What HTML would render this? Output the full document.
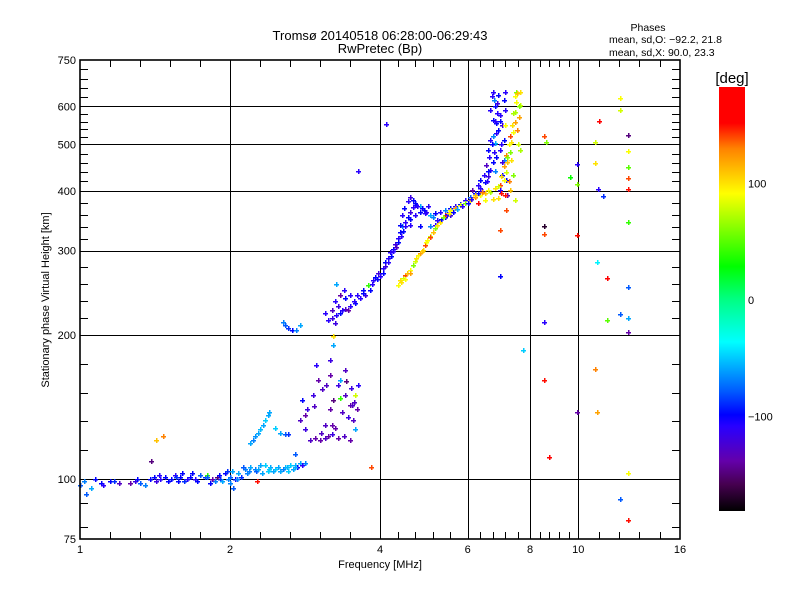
<!DOCTYPE html>
<html><head><meta charset="utf-8"><style>
html,body{margin:0;padding:0;background:#fff;}
svg{display:block;font-family:"Liberation Sans",sans-serif;}
</style></head><body>
<svg id="chart" width="800" height="600" viewBox="0 0 800 600" xmlns="http://www.w3.org/2000/svg">
<defs>
<linearGradient id="cbgrad" x1="0" y1="1" x2="0" y2="0">
<stop offset="0" stop-color="rgb(0,0,0)"/>
<stop offset="0.063" stop-color="rgb(70,0,80)"/>
<stop offset="0.118" stop-color="rgb(100,0,170)"/>
<stop offset="0.2" stop-color="rgb(40,0,255)"/>
<stop offset="0.227" stop-color="rgb(0,0,255)"/>
<stop offset="0.282" stop-color="rgb(0,90,255)"/>
<stop offset="0.399" stop-color="rgb(0,255,255)"/>
<stop offset="0.5" stop-color="rgb(0,255,130)"/>
<stop offset="0.577" stop-color="rgb(0,255,0)"/>
<stop offset="0.749" stop-color="rgb(255,255,0)"/>
<stop offset="0.855" stop-color="rgb(255,130,0)"/>
<stop offset="0.915" stop-color="rgb(255,0,0)"/>
<stop offset="1" stop-color="rgb(255,0,0)"/>
</linearGradient>
</defs>
<text x="380" y="40" font-size="13" text-anchor="middle">Tromsø 20140518 06:28:00-06:29:43</text>
<text x="380" y="53" font-size="13" text-anchor="middle">RwPretec (Bp)</text>
<text x="648" y="31" font-size="10.5" text-anchor="middle">Phases</text>
<text x="609" y="43" font-size="10.5">mean, sd,O: −92.2, 21.8</text>
<text x="609" y="56" font-size="10.5">mean, sd,X:  90.0, 23.3</text>
<g id="grid"></g>
<g id="points"></g>
<g id="axes"></g>
<text x="380" y="568" font-size="11" text-anchor="middle">Frequency [MHz]</text>
<text x="49" y="300" font-size="11" text-anchor="middle" transform="rotate(-90 49 300)">Stationary phase Virtual Height [km]</text>
<rect x="719" y="87" width="26" height="424" fill="url(#cbgrad)"/>
<text x="732" y="83" font-size="15" text-anchor="middle">[deg]</text>
<g id="cbticks"></g>
</svg>
<script>
const freq = [1.00,1.02,1.05,1.07,1.10,1.11,1.15,1.20,1.26,1.29,1.32,1.35,1.41,1.45,1.48,1.52,1.55,1.59,1.62,1.66,1.70,1.74,1.78,1.82,1.87,1.91,1.95,2.00,2.00,2.05,2.10,2.14,2.19,2.24,2.30,2.35,2.41,2.46,2.52,2.58,2.64,2.70,2.76,2.83,
1.03,1.17,1.38,1.42,1.57,1.60,1.68,1.84,1.93,1.97,2.02,2.07,2.12,2.16,2.26,2.32,2.38,2.44,2.55,2.61,2.67,2.73,2.79,2.03,1.88,
2.19,2.22,2.24,2.28,2.30,2.33,2.35,2.38,2.40,2.46,2.52,2.58,2.62,2.70,
2.76,2.83,2.86,2.89,2.96,3.03,3.10,2.93,3.00,2.97,3.06,3.17,3.22,3.30,3.33,3.40,3.48,3.53,3.57,3.48,3.38,3.25,3.10,3.33,3.45,3.51,3.60,3.62,3.17,3.11,2.83,2.79,3.17,3.40,3.57,
2.55,2.58,2.62,2.66,2.71,2.76,
3.10,3.20,3.27,3.33,3.40,3.48,3.57,3.65,3.74,3.82,3.25,3.33,3.40,3.48,3.38,3.27,3.60,3.70,3.78,3.87,3.91,3.96,4.05,
4.10,4.15,4.19,4.25,4.29,4.35,4.39,4.43,4.49,4.59,4.70,4.81,4.92,5.04,5.16,5.28,5.40,5.53,5.66,5.79,5.93,6.06,6.21,6.35,6.50,6.58,6.65,6.73,6.77,6.81,6.85,6.85,6.88,6.88,6.91,6.73,
4.43,4.47,4.56,4.59,4.65,4.72,4.81,4.90,5.00,4.39,4.59,4.81,5.04,5.28,5.40,5.53,5.16,
6.96,7.04,7.08,6.96,7.11,7.04,7.13,7.08,7.13,6.65,6.58,6.54,6.46,6.35,6.29,6.13,6.73,6.65,6.77,6.91,6.96,7.16,7.21,
4.35,4.39,4.45,4.49,4.54,4.59,4.65,4.72,4.77,4.81,4.87,4.92,4.98,5.04,5.10,5.16,5.28,5.40,5.53,5.66,5.79,5.93,6.06,6.21,6.35,6.50,6.65,6.81,6.96,7.08,7.16,7.21,7.29,7.33,7.38,7.46,7.46,7.50,7.50,7.64,7.64,7.55,7.64,7.13,6.91,7.29,7.46,7.16,6.50,6.29,7.38,7.33,7.16,7.13,
4.12,3.62,3.84,1.42,1.47,1.39,1.80,2.27,3.22,3.22,6.98,6.98,7.73,
12.1,12.1,11.0,12.6,8.55,8.6,10.8,12.6,10.8,12.6,12.6,9.94,9.62,9.94,10.95,12.6,11.2,12.6,8.55,8.55,9.94,10.9,11.4,12.6,12.1,11.4,12.6,8.55,12.6,10.8,8.55,9.94,10.9,8.72,12.6,12.1,12.6,
4.0,4.05,4.1,4.15,4.2,4.25,4.3,4.35,4.4,4.45,4.5,4.55,4.6,4.65,4.7,4.75,4.85,4.95,5.1,5.2,5.3,5.45,5.6,5.7,5.85,6.0,6.1,6.3,6.4,6.55,6.6,6.62,6.7,6.75,6.8,6.82,6.7,6.95,7.0,7.02,6.85,6.8,3.3,3.35,3.45,3.55,3.7,3.85,3.95,3.2,3.15,3.25,
4.4,4.5,4.6,4.7,4.85,4.95,5.05,5.2,5.35,5.5,6.2,6.4,6.6,6.9,7.0,7.1,7.2,7.25,7.3,7.35,7.4,7.45,7.55,7.6,7.6,7.58,7.0,6.75,7.25,
1.3,1.44,1.5,1.56,1.64,1.72,1.8,1.9,1.98,2.08,2.18,2.28,2.4,2.5,2.6,2.7,
3.05,3.15,3.2,3.3,3.35,3.42,3.5,3.55,3.2,2.95];
const height = [97,99,96,100,98,97,99,98,98,99,98,97,101,100,101,100,102,101,99,101,100,102,101,98,99,100,103,101,98,100,101,105,106,105,107,107,106,105,104,106,107,107,108,108,
93,99,100,99,99,103,103,100,99,104,104,100,106,103,104,103,104,104,105,104,105,106,107,96,101,
119,121,123,125,127,130,133,136,138,128,125,124,124,113,
133,136,140,121,122,121,122,150,161,173,154,140,146,157,161,150,143,133,127,121,123,128,130,148,135,143,140,157,165,157,127,146,177,169,150,
213,210,207,205,205,210,
222,217,220,222,227,230,233,239,242,248,236,242,239,242,248,256,242,248,254,260,264,270,276,
284,290,298,303,310,319,328,338,345,350,356,362,360,356,360,362,365,369,372,375,383,388,396,405,417,430,442,460,483,504,529,554,580,610,634,643,
356,369,380,388,383,374,371,365,371,340,340,337,338,345,352,356,340,
401,432,464,487,511,549,590,619,643,511,487,453,432,421,411,401,562,590,619,536,576,421,392,
254,260,263,267,270,273,280,290,294,297,301,308,316,322,328,335,345,356,365,369,374,377,383,388,392,396,398,405,411,421,438,460,483,506,531,557,584,614,643,643,604,536,487,392,386,401,383,365,383,377,432,464,475,549,
552,440,106,121,123,109,102,99,199,191,331,266,186,
625,590,559,523,521,506,506,485,458,449,425,455,428,413,403,403,390,345,337,325,324,284,263,252,221,215,217,213,203,170,161,138,138,111,103,91,82,
265,270,278,284,292,300,305,312,322,330,338,352,362,370,378,372,368,362,352,348,350,358,362,366,372,378,385,395,400,420,440,470,500,520,560,600,630,560,500,460,470,440,230,225,226,236,245,255,262,225,215,212,
258,262,270,285,300,312,320,340,352,360,392,398,402,410,430,450,470,500,520,550,580,630,640,600,570,500,395,385,420,
100,102,99,101,100,99,101,102,100,103,104,105,105,106,106,106,
125,123,124,122,138,160,155,145,130,142];
const phase = [-80,-70,-60,-100,-100,-110,-100,-130,-140,-120,-80,-70,-100,-110,-100,-100,-110,-100,-90,-100,-110,-80,-90,-100,-70,-90,-100,-80,-70,-100,-90,-70,-60,-70,-60,-50,-60,-50,-60,-55,-50,-55,-60,-70,
-80,-90,-100,-120,-100,-100,-100,-140,-60,-90,-60,-70,-80,-70,-80,-60,-50,-60,-70,-50,-60,-100,-110,-80,-150,
-60,-70,-65,-60,-55,-60,-50,-60,-60,-50,-60,-80,-90,-80,
-130,-140,-120,-130,-140,-140,-130,-120,-140,-110,-130,-140,-150,-120,-60,-130,-140,-130,-60,-140,-130,-140,-130,40,-120,-130,-140,-110,-140,-130,-120,-100,-120,-130,80,
-70,-80,-90,-100,-70,-60,
-110,-120,-110,-100,-130,-110,-100,-110,-120,-100,-110,-140,-100,-110,-110,-60,-110,-100,40,-110,-100,-120,-110,
-100,-110,-110,-100,-120,-110,-100,-70,-110,-100,-110,-100,-110,-60,-100,-110,-70,-100,-110,-100,-110,-80,-100,-110,-100,-120,-110,-100,-110,-60,-110,-100,-110,-120,-100,-110,
-110,-100,-110,-120,-100,-110,-60,-100,-110,-100,-110,-100,-70,-110,-100,-120,-110,
-110,-100,-70,-110,-100,-120,-110,-100,-110,-110,-100,-130,-110,-100,-110,-140,-100,-110,-70,-100,-110,-100,-140,
90,100,80,140,110,90,60,100,90,120,100,140,90,80,110,60,100,150,90,120,80,60,100,130,90,110,70,100,140,90,80,110,60,100,90,120,70,90,60,100,80,130,70,150,100,110,80,140,90,160,60,100,130,90,
-110,-110,140,110,130,-150,40,150,100,-60,140,-100,-50,
90,80,170,-150,140,60,80,90,100,50,140,-110,30,60,-110,150,-90,40,-170,140,150,-40,170,-80,-80,50,-60,-110,-140,130,150,-140,120,170,90,-80,150,
-110,-100,-120,-110,-100,-110,-130,-100,-110,-100,-110,-100,-120,-110,-100,-110,-100,-110,-70,-110,-100,-110,-100,-60,-110,-100,-110,-100,-130,-110,-100,-110,-100,-70,-110,-100,-110,-100,-110,-120,-100,-70,-120,-110,-140,-110,-100,-110,-100,-130,-110,-120,
100,90,120,80,110,90,140,100,60,90,110,130,90,80,100,120,60,90,140,100,70,90,110,60,120,80,150,100,130,
-100,-110,-100,-90,-110,-100,-80,-100,-70,-60,-70,-60,-50,-60,-55,-60,
-130,-140,-120,-140,-130,-150,-120,-130,-140,-130];

const xMajor = [1,2,4,6,8,10,16];
const xLabels = ["1","2","4","6","8","10","16"];
const yMajor = [75,100,200,300,400,500,600,750];
const yLabels = ["75","100","200","300","400","500","600","750"];
const cbTicks = [100,0,-100];
const cbLabels = ["100","0","−100"];

const L=80,R=680,T=60,B=539;
function xs(f){return L+150*Math.log2(f);}
function ys(h){return B-479*Math.log10(h/75);}
function cbY(p){return 300-p*1.165;}
const stops=[[-183,[0,0,0]],[-160,[70,0,80]],[-140,[100,0,170]],[-110,[40,0,255]],[-100,[0,0,255]],[-80,[0,90,255]],[-37,[0,255,255]],[0,[0,255,130]],[28,[0,255,0]],[91,[255,255,0]],[130,[255,130,0]],[152,[255,0,0]],[183,[255,0,0]]];
function col(p){
  if(p<=stops[0][0])return 'rgb(0,0,0)';
  for(let i=1;i<stops.length;i++){
    if(p<=stops[i][0]){const a=stops[i-1],b=stops[i];const t=(p-a[0])/(b[0]-a[0]);
      const c=a[1].map((v,k)=>Math.round(v+(b[1][k]-v)*t));return 'rgb('+c.join(',')+')';}
  }
  return 'rgb(255,0,0)';
}
const NS='http://www.w3.org/2000/svg';
function mk(tag,attrs,parent){const e=document.createElementNS(NS,tag);for(const k in attrs)e.setAttribute(k,attrs[k]);parent.appendChild(e);return e;}

const grid=document.getElementById('grid');
for(let i=1;i<xMajor.length-1;i++){
  const x=Math.round(xs(xMajor[i]))+0.5;
  const g=mk('line',{x1:x,x2:x,y1:T,y2:B,stroke:'#000','stroke-width':1,'shape-rendering':'crispEdges'},grid);
  
  
}
for(let i=1;i<yMajor.length-1;i++){
  const y=Math.round(ys(yMajor[i]))+0.5;
  const g=mk('line',{x1:L,x2:R,y1:y,y2:y,stroke:'#000','stroke-width':1,'shape-rendering':'crispEdges'},grid);
  
  
}

const pts=document.getElementById('points');
for(let i=0;i<freq.length;i++){
  const x=Math.round(xs(freq[i])),y=Math.round(ys(height[i])),c=col(phase[i]);
  const p=mk('path',{d:'M'+(x-2)+' '+(y+0.5)+'h5M'+(x+0.5)+' '+(y-2)+'v5',stroke:c,'stroke-width':1.5,fill:'none','shape-rendering':'crispEdges'},pts);
  
  
}

const axes=document.getElementById('axes');
const fr=mk('rect',{x:L,y:T,width:R-L,height:B-T,fill:'none',stroke:'#000','stroke-width':1.6},axes);


for(let i=0;i<xMajor.length;i++){
  const x=xs(xMajor[i]);
  const t=mk('text',{x:x,y:553,'font-size':11,'text-anchor':'middle'},axes);
  t.textContent=xLabels[i];
  
  
  if(i<xMajor.length-1){
    const x2=xs(xMajor[i+1]);
    for(let k=1;k<5;k++){
      const xx=Math.round(x+(x2-x)*k/5)+0.5;
      const a=mk('path',{d:'M'+xx+' '+B+'v-7M'+xx+' '+T+'v7',stroke:'#000','stroke-width':1,'shape-rendering':'crispEdges'},axes);
      
      
    }
  }
}
for(let i=0;i<yMajor.length;i++){
  const y=ys(yMajor[i]);
  const t=mk('text',{x:76,y:y+4,'font-size':11,'text-anchor':'end'},axes);
  t.textContent=yLabels[i];
  
  
  if(i<yMajor.length-1){
    const y2=ys(yMajor[i+1]);
    const list=[];
    if(i===0){list.push(ys(yMajor[1])+24,ys(yMajor[1])+48);}
    else for(let k=1;k<5;k++)list.push(y+(y2-y)*k/5);
    list.forEach(v=>{
      const yy=Math.round(v)+0.5;
      const a=mk('path',{d:'M'+L+' '+yy+'h8M'+R+' '+yy+'h-8',stroke:'#000','stroke-width':1,'shape-rendering':'crispEdges'},axes);
      
      
    });
  }
}

const cbt=document.getElementById('cbticks');
for(let i=0;i<cbTicks.length;i++){
  const t=mk('text',{x:748,y:cbY(cbTicks[i])+4,'font-size':11},cbt);
  t.textContent=cbLabels[i];
  
  
}
</script>
</body></html>
